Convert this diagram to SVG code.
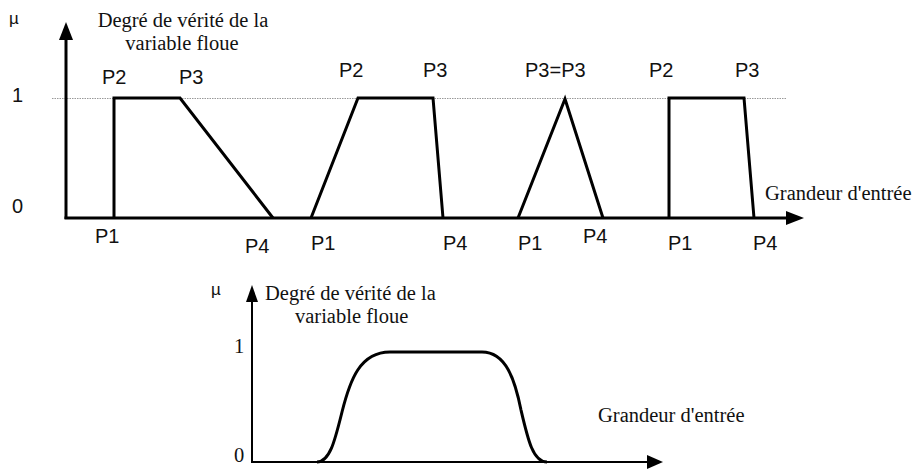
<svg xmlns="http://www.w3.org/2000/svg" width="914" height="470" viewBox="0 0 914 470">
<style>
.s{font-family:"Liberation Serif","Times New Roman",serif;font-size:20.5px;fill:#111}
.a{font-family:"Liberation Sans",Arial,sans-serif;font-size:20px;fill:#111}
.m{font-family:"Liberation Sans",Arial,sans-serif;font-size:17px;fill:#111}
.ax{stroke:#000;stroke-width:3;fill:none}
.ax2{stroke:#000;stroke-width:2;fill:none}
.mf{stroke:#000;stroke-width:3;fill:none;stroke-linejoin:miter}
.dot{stroke:#999;stroke-width:1;stroke-dasharray:1.5 1;fill:none}
</style>
<rect width="914" height="470" fill="#fff"/>
<g id="connectors">
  <line class="dot" x1="52" y1="98.5" x2="786" y2="98.5"/>
  <line class="ax" x1="66" y1="219" x2="66" y2="38"/>
  <polygon points="59,40 73,40 66,22" fill="#000"/>
  <line class="ax" x1="64.5" y1="218" x2="788" y2="218"/>
  <polygon points="786,211 786,225 804,218" fill="#000"/>
  <line class="ax2" x1="252" y1="463" x2="252" y2="300"/>
  <polygon points="246,302 258,302 252,285" fill="#000"/>
  <line class="ax2" x1="251" y1="462" x2="649" y2="462"/>
  <polygon points="647,455 647,469 663,462" fill="#000"/>
</g>
<g id="top-labels">
  <text class="m" x="9" y="24">µ</text>
  <text class="s" x="183" y="27" text-anchor="middle">Degré de vérité de la</text>
  <text class="s" x="182" y="50" text-anchor="middle">variable floue</text>
  <text class="a" x="12" y="102">1</text>
  <text class="a" x="12" y="213">0</text>
  <text class="s" x="765" y="200">Grandeur d'entrée</text>
</g>
<g id="mf1">
  <polyline class="mf" points="114,218 114,98 180,98 273,218"/>
  <text class="a" x="102" y="84">P2</text>
  <text class="a" x="179" y="84">P3</text>
  <text class="a" x="95" y="243">P1</text>
  <text class="a" x="245" y="253">P4</text>
</g>
<g id="mf2">
  <polyline class="mf" points="311,218 358,98 433,98 443,218"/>
  <text class="a" x="339" y="77">P2</text>
  <text class="a" x="423" y="77">P3</text>
  <text class="a" x="311" y="250">P1</text>
  <text class="a" x="443" y="250">P4</text>
</g>
<g id="mf3">
  <polyline class="mf" points="518,218 565,99 603,218"/>
  <text class="a" x="525" y="77">P3=P3</text>
  <text class="a" x="518" y="250">P1</text>
  <text class="a" x="583" y="243">P4</text>
</g>
<g id="mf4">
  <polyline class="mf" points="669,218 669,98 744,98 754,218"/>
  <text class="a" x="649" y="77">P2</text>
  <text class="a" x="735" y="77">P3</text>
  <text class="a" x="668" y="250">P1</text>
  <text class="a" x="753" y="250">P4</text>
</g>
<g id="bottom-chart">
  <text class="m" x="211" y="295">µ</text>
  <text class="s" x="265" y="300">Degré de vérité de la</text>
  <text class="s" x="295" y="323">variable floue</text>
  <text class="s" x="234" y="353">1</text>
  <text class="s" x="234" y="462">0</text>
  <text class="s" x="598" y="422">Grandeur d'entrée</text>
  <path class="mf" d="M317,462 C330,462 335,440 342,412 C350,380 360,352 390,352 L482,352 C506,352 515,380 521,410 C528,440 533,462 547,462"/>
</g>
</svg>
